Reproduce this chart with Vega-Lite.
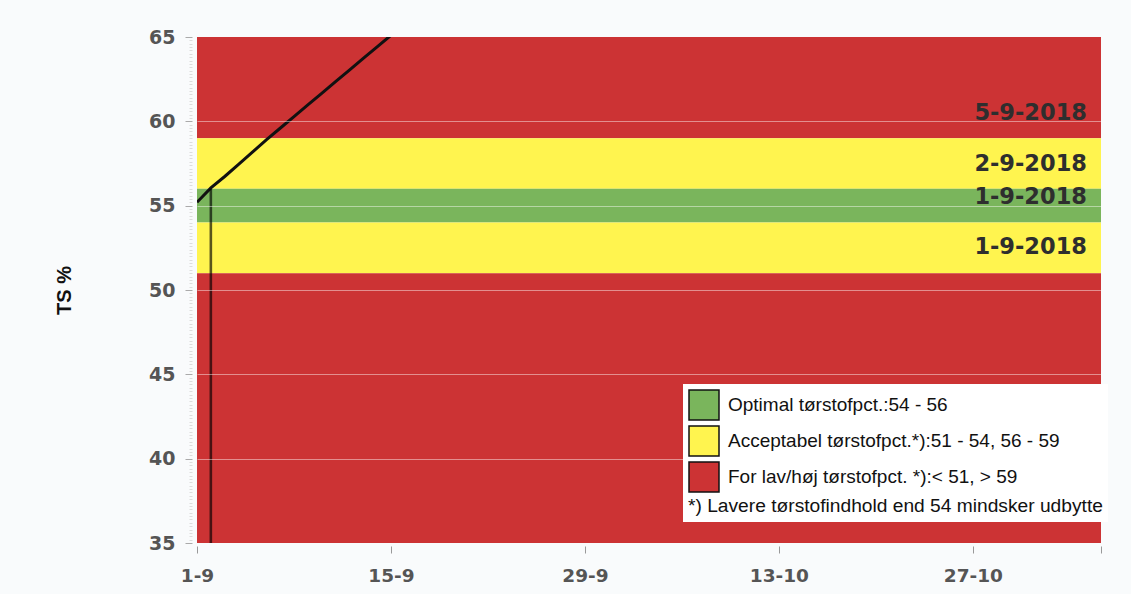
{
  "$schema": "https://vega.github.io/schema/vega-lite/v6.json",
  "width": 904,
  "height": 506,
  "autosize": "none",
  "padding": {"left": 197, "top": 37, "right": 30, "bottom": 51},
  "background": "#f9fbfc",
  "config": {"view": {"stroke": null}, "font": "Liberation Sans"},
  "layer": [
    {
      "data": {"values": [
        {"lo": 59, "hi": 65, "kategori": "For lav/høj tørstofpct. *):< 51, > 59"},
        {"lo": 56, "hi": 59, "kategori": "Acceptabel tørstofpct.*):51 - 54, 56 - 59"},
        {"lo": 54, "hi": 56, "kategori": "Optimal tørstofpct.:54 - 56"},
        {"lo": 51, "hi": 54, "kategori": "Acceptabel tørstofpct.*):51 - 54, 56 - 59"},
        {"lo": 35, "hi": 51, "kategori": "For lav/høj tørstofpct. *):< 51, > 59"}
      ]},
      "mark": {"type": "rect"},
      "encoding": {
        "y": {
          "field": "lo", "type": "quantitative",
          "scale": {"domain": [35, 65], "nice": false, "zero": false},
          "axis": {
            "title": "TS %",
            "titleFont": "Liberation Sans", "titleFontSize": 20, "titleFontWeight": "bold", "titleColor": "#111",
            "titleX": -128, "titleY": 253, "titleAngle": -90, "titleBaseline": "middle", "titleAlign": "center",
            "tickCount": 150,
            "labelExpr": "abs(datum.value % 5) < 0.01 ? format(datum.value, 'd') : ''",
            "labelOverlap": false,
            "labelFont": "DejaVu Sans", "labelFontWeight": "bold", "labelFontSize": 19, "labelColor": "#555",
            "labelPadding": 10,
            "offset": 5,
            "domain": false,
            "tickSize": {"condition": {"test": "abs(datum.value % 5) < 0.01", "value": 7}, "value": 3},
            "tickColor": {"condition": {"test": "abs(datum.value % 5) < 0.01", "value": "#aaaaaa"}, "value": "#dddddd"},
            "grid": true,
            "gridColor": "#ffffff",
            "gridOpacity": {"condition": {"test": "abs(datum.value % 5) < 0.01 && datum.value > 36 && datum.value < 64", "value": 0.45}, "value": 0},
            "zindex": 1
          }
        },
        "y2": {"field": "hi"},
        "color": {
          "field": "kategori", "type": "nominal",
          "scale": {
            "domain": ["Optimal tørstofpct.:54 - 56", "Acceptabel tørstofpct.*):51 - 54, 56 - 59", "For lav/høj tørstofpct. *):< 51, > 59"],
            "range": ["#7ab55c", "#fff44f", "#cc3334"]
          },
          "legend": {
            "orient": "none", "legendX": 486, "legendY": 347,
            "title": "*) Lavere tørstofindhold end 54 mindsker udbytte",
            "titleOrient": "bottom", "titleAnchor": "start", "titleAlign": "left",
            "titleFont": "Liberation Sans", "titleFontWeight": "normal", "titleFontSize": 19.2, "titleColor": "#111",
            "titlePadding": 2, "titleLimit": 600,
            "symbolType": "square", "symbolSize": 900, "symbolStrokeColor": "#111", "symbolStrokeWidth": 1.5, "symbolOpacity": 1,
            "labelFont": "Liberation Sans", "labelFontSize": 19, "labelColor": "#111", "labelOffset": 8, "labelLimit": 500,
            "fillColor": "#ffffff", "padding": 5, "rowPadding": 0
          }
        }
      }
    },
    {
      "data": {"values": [
        {"dato": "2018-09-01T00:00", "ts": 55.2},
        {"dato": "2018-09-02T00:00", "ts": 56.05},
        {"dato": "2018-09-03T00:00", "ts": 56.73},
        {"dato": "2018-09-04T00:00", "ts": 57.45},
        {"dato": "2018-09-05T00:00", "ts": 58.17},
        {"dato": "2018-09-06T00:00", "ts": 58.9},
        {"dato": "2018-09-07T00:00", "ts": 59.59},
        {"dato": "2018-09-08T00:00", "ts": 60.28},
        {"dato": "2018-09-09T00:00", "ts": 60.97},
        {"dato": "2018-09-10T00:00", "ts": 61.66},
        {"dato": "2018-09-11T00:00", "ts": 62.35},
        {"dato": "2018-09-12T00:00", "ts": 63.04},
        {"dato": "2018-09-13T00:00", "ts": 63.73},
        {"dato": "2018-09-14T00:00", "ts": 64.42},
        {"dato": "2018-09-15T00:00", "ts": 65.1}
      ]},
      "mark": {"type": "line", "color": "#111111", "strokeWidth": 3, "clip": true},
      "encoding": {
        "x": {
          "field": "dato", "type": "temporal",
          "scale": {"domain": [{"year": 2018, "month": 9, "date": 1}, {"year": 2018, "month": 11, "date": 5, "hours": 6}]},
          "axis": {
            "title": null,
            "values": [
              {"year": 2018, "month": 9, "date": 1},
              {"year": 2018, "month": 9, "date": 15},
              {"year": 2018, "month": 9, "date": 29},
              {"year": 2018, "month": 10, "date": 13},
              {"year": 2018, "month": 10, "date": 27},
              {"year": 2018, "month": 11, "date": 5, "hours": 6}
            ],
            "labelExpr": "month(datum.value) == 10 ? '' : timeFormat(datum.value, '%-d-%-m')",
            "labelFlush": false, "labelOverlap": false,
            "domain": false, "grid": false,
            "tickColor": "#999999", "tickSize": 7, "offset": 3,
            "labelFont": "DejaVu Sans", "labelFontWeight": "bold", "labelFontSize": 18.5, "labelColor": "#555",
            "labelPadding": 13
          }
        },
        "y": {"field": "ts", "type": "quantitative"}
      }
    },
    {
      "data": {"values": [{"dato": "2018-09-02T00:00", "top": 56, "bund": 35}]},
      "mark": {"type": "rule", "color": "#000000", "strokeWidth": 2.6, "opacity": 0.65},
      "encoding": {
        "x": {"field": "dato", "type": "temporal"},
        "y": {"field": "top", "type": "quantitative"},
        "y2": {"field": "bund"}
      }
    },
    {
      "data": {"values": [
        {"tekst": "5-9-2018", "ts": 60.5},
        {"tekst": "2-9-2018", "ts": 57.5},
        {"tekst": "1-9-2018", "ts": 55.5},
        {"tekst": "1-9-2018", "ts": 52.55}
      ]},
      "mark": {"type": "text", "align": "right", "baseline": "middle", "dx": -14, "font": "DejaVu Sans", "fontWeight": "bold", "fontSize": 22.5, "color": "#2e2e2e"},
      "encoding": {
        "x": {"datum": {"year": 2018, "month": 11, "date": 5, "hours": 6}, "type": "temporal"},
        "y": {"field": "ts", "type": "quantitative"},
        "text": {"field": "tekst"}
      }
    }
  ]
}
